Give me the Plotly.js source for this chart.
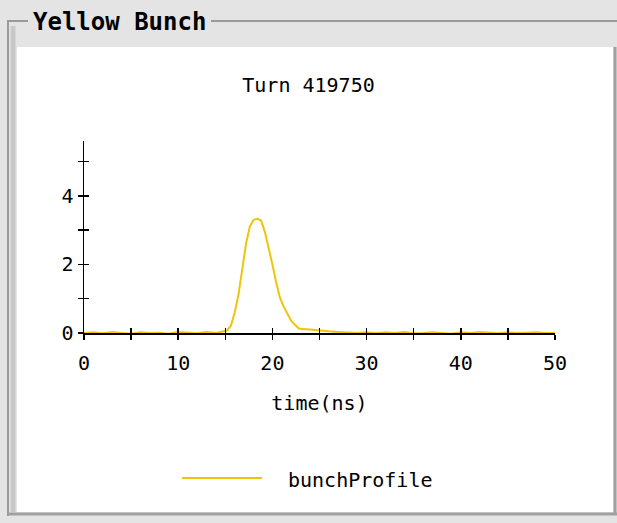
<!DOCTYPE html>
<html>
<head>
<meta charset="utf-8">
<script src="https://cdn.plot.ly/plotly-3.0.1.min.js"></script>
<style>
html,body{margin:0;padding:0;background:#e4e4e4;}
#chart{width:617px;height:523px;}
</style>
</head>
<body>
<div id="chart"></div>
<script>
// ---- data ----
const seriesName = "bunchProfile";
const chartTitle = "Turn 419750";
const panelTitle = "Yellow Bunch";
const xTitle = "time(ns)";
const timeNs = [0,1,2,3,4,5,6,7,8,9,10,11,12,13,14,
  14.4,14.8,15.2,15.6,16.0,16.4,16.8,17.2,17.6,18.0,18.4,18.8,19.2,19.6,20.0,
  20.4,20.8,21.2,21.6,22.0,22.4,22.8,23.2,23.6,24.0,24.5,25.0,25.5,26.0,
  27,28,29,30,31,32,33,34,35,36,37,38,39,40,41,42,43,44,45,46,47,48,49,50];
const bunchProfile = [0.0,0.02,-0.01,0.03,0.0,-0.02,0.02,0.0,0.01,-0.02,0.03,0.0,-0.01,0.03,0.0,
  0.02,0.04,0.08,0.22,0.6,1.12,1.85,2.6,3.1,3.3,3.33,3.28,2.95,2.5,2.0,
  1.48,1.03,0.77,0.55,0.35,0.24,0.13,0.12,0.12,0.1,0.09,0.07,0.06,0.05,
  0.03,0.02,0.0,0.02,-0.01,0.02,0.0,0.03,-0.01,0.0,0.02,0.0,-0.02,0.02,0.0,0.03,0.0,-0.01,0.02,0.0,0.01,0.02,0.0,0.0];

// ---- geometry ----
const W = 617, H = 523, L = 84, R = 62, T = 141, B = 190;
const pw = W - L - R, ph = H - T - B;
const xp = px => (px - L) / pw;
const yp = py => (H - B - py) / ph;

const mono = "DejaVu Sans Mono, Liberation Mono, monospace";
const gray = "#e4e4e4";
const yellow = "#efc50c";

const shapes = [
  // white panel
  {type:"rect", xref:"paper", yref:"paper", x0:xp(17), x1:xp(613), y0:yp(512), y1:yp(47),
   fillcolor:"#ffffff", line:{width:0}, layer:"below"},
  // group box etched lines
  {type:"line", xref:"paper", yref:"paper", x0:xp(8), x1:xp(28), y0:yp(21), y1:yp(21), line:{color:"#9a9a9a", width:2}, layer:"below"},
  {type:"line", xref:"paper", yref:"paper", x0:xp(211), x1:xp(617), y0:yp(21), y1:yp(21), line:{color:"#9a9a9a", width:2}, layer:"below"},
  {type:"line", xref:"paper", yref:"paper", x0:xp(8), x1:xp(8), y0:yp(20), y1:yp(516), line:{color:"#9a9a9a", width:2}, layer:"below"},
  {type:"line", xref:"paper", yref:"paper", x0:xp(13), x1:xp(13), y0:yp(26), y1:yp(512), line:{color:"#c8c8c8", width:5}, layer:"below"},
  {type:"line", xref:"paper", yref:"paper", x0:xp(8), x1:xp(617), y0:yp(514), y1:yp(514), line:{color:"#a0a0a0", width:3}, layer:"below"},
  {type:"line", xref:"paper", yref:"paper", x0:xp(615), x1:xp(615), y0:yp(47), y1:yp(514), line:{color:"#a0a0a0", width:3}, layer:"below"},
  // legend line
  {type:"line", xref:"paper", yref:"paper", x0:xp(182), x1:xp(262), y0:yp(478), y1:yp(478), line:{color:yellow, width:2}}
];

const annotations = [
  {text:"<b>"+panelTitle+"</b>", xref:"paper", yref:"paper", x:xp(31), y:yp(22), xanchor:"left", yanchor:"middle",
   showarrow:false, font:{family:mono, size:24, color:"#000"}},
  {text:seriesName, xref:"paper", yref:"paper", x:xp(286), y:yp(480), xanchor:"left", yanchor:"middle",
   showarrow:false, font:{family:mono, size:20, color:"#000"}}
];

const axisCommon = {
  showgrid:false, zeroline:false, showline:true, linecolor:"#000", linewidth:1.5,
  ticks:"outside", ticklen:5, tickwidth:1.5, tickcolor:"#000",
  tickfont:{family:mono, size:20, color:"#000"}, fixedrange:true
};

const layout = {
  width:W, height:H,
  margin:{l:L, r:R, t:T, b:B, pad:0},
  paper_bgcolor:gray, plot_bgcolor:"rgba(0,0,0,0)",
  showlegend:false,
  title:{text:chartTitle, font:{family:mono, size:20, color:"#000"}, x:0.5, xref:"container", xanchor:"center",
         y:1 - 85/H, yref:"container", yanchor:"middle"},
  xaxis: Object.assign({}, axisCommon, {range:[0,50], dtick:10, tick0:0, anchor:"y",
    minor:{dtick:5, ticks:"outside", ticklen:5, tickwidth:1.5, tickcolor:"#000"},
    ticklabelstandoff:6,
    title:{text:xTitle, font:{family:mono, size:20, color:"#000"}, standoff:22}}),
  yaxis: Object.assign({}, axisCommon, {range:[0,5.6], dtick:2, tick0:0, anchor:"x",
    minor:{dtick:1, ticks:"outside", ticklen:5, tickwidth:1.5, tickcolor:"#000"},
    ticklabelstandoff:0}),
  xaxis2: {overlaying:"x", anchor:"y2", side:"bottom", range:[0,50], dtick:5, tick0:0, ticks:"inside", ticklen:5, tickwidth:1.5,
    tickcolor:"#000", showticklabels:false, showgrid:false, zeroline:false, showline:false, fixedrange:true},
  yaxis2: {overlaying:"y", anchor:"x2", side:"left", range:[0,5.6], dtick:1, tick0:0, ticks:"inside", ticklen:5, tickwidth:1.5,
    tickcolor:"#000", showticklabels:false, showgrid:false, zeroline:false, showline:false, fixedrange:true},
  shapes:shapes,
  annotations:annotations
};

const traces = [
  {x:timeNs, y:bunchProfile, type:"scatter", mode:"lines", name:seriesName,
   line:{color:yellow, width:2}, xaxis:"x", yaxis:"y", hoverinfo:"skip"},
  {x:[0], y:[0], type:"scatter", mode:"markers", marker:{opacity:0}, xaxis:"x2", yaxis:"y2", hoverinfo:"skip", showlegend:false}
];

Plotly.newPlot("chart", traces, layout, {displayModeBar:false, staticPlot:true});
</script>
</body>
</html>
